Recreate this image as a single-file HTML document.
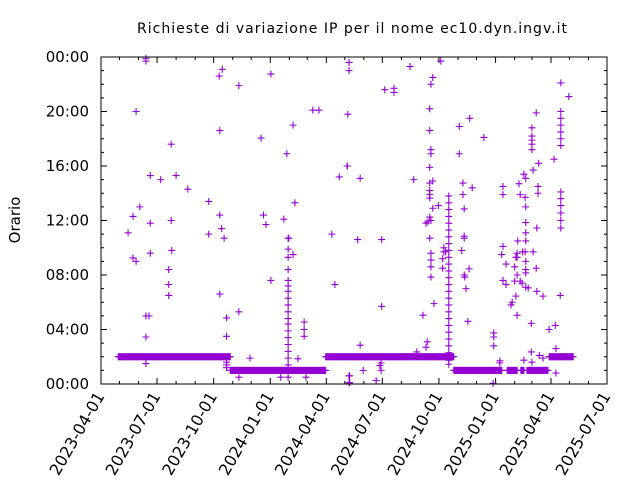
<!DOCTYPE html>
<html><head><meta charset="utf-8"><style>
html,body{margin:0;padding:0;background:#fff}
svg{display:block;font-family:"DejaVu Sans","Liberation Sans",sans-serif}
</style></head><body>
<svg id="chart" width="640" height="480" viewBox="0 0 640 480" xmlns="http://www.w3.org/2000/svg">
<text x="352" y="33" text-anchor="middle" font-size="14" textLength="430" fill="#000">Richieste di variazione IP per il nome ec10.dyn.ingv.it</text>
<text x="0" y="0" font-size="15" text-anchor="middle" transform="translate(20,220) rotate(-90)" fill="#000">Orario</text>
<g id="axes"></g>
<g id="marks"></g>
<rect x="101" y="57" width="506" height="327" fill="none" stroke="#000" stroke-width="1"/>
</svg>
<script>
const xTickLabels = ["2023-04-01","2023-07-01","2023-10-01","2024-01-01","2024-04-01","2024-07-01","2024-10-01","2025-01-01","2025-04-01","2025-07-01"];
const yTickLabels = ["00:00","04:00","08:00","12:00","16:00","20:00","00:00"];
const yTickHours = [0,4,8,12,16,20,24];
// bands: [startDay, endDay, hour] (days since 2023-04-01)
const bandStart = [28,210,365,573,660,682,692,728];
const bandEnd   = [210,365,573,651,676,687,726,767];
const bandHour  = [2,1,2,1,1,1,1,2];
// scattered points: day offsets and hours
const ptDay = [73,73,197,192,276,224,57,344,354,193,312,260,114,302,400,80,97,122,387,141,175,315,63,52,193,264,114,297,80,268,196,44,175,200,375,305,115,80,312,52,57,110,110,193,110,276,380,224,73,78,204,73,204,330,330,330,242,320,73,204,204,204,224,292,333,403,403,
 403,403,552,502,539,536,461,476,476,747,760,401,534,707,747,747,747,747,747,747,599,582,622,700,700,700,700,700,534,536,536,582,400,736,711,702,421,508,534,687,690,534,539,588,653,679,710,534,534,534,588,603,653,681,710,689,747,747,747,747,747,747,548,539,590,690,534,536,528,531,690,708,534,417,456,590,590,653,677,690,690,557,557,560,586,651,676,676,685,689,702,536,536,536,536,555,555,658,674,672,690,690,690,598,707,590,591,676,672,681,684,653,658,690,694,593,708,718,746,674,668,666,541,456,676,523,596,699,728,738,638,638,638,530,528,421,513,699,739,712,718,648,648,687,700,455,453,426,455,404,404,447,637,739,565];
const ptHour = [23.9,23.7,23.1,22.6,22.75,21.9,20.0,20.1,20.1,18.6,19.0,18.05,17.6,16.9,16.0,15.3,15.0,15.3,15.2,14.3,13.4,13.3,13.0,12.3,12.4,12.4,12.0,12.1,11.8,11.7,11.4,11.1,11.0,10.7,11.0,10.7,9.8,9.6,9.5,9.25,9.0,8.4,7.3,6.6,6.5,7.6,7.3,5.3,5.0,5.0,4.85,3.45,3.5,4.55,4.0,3.5,1.9,1.85,1.5,1.6,1.4,1.2,0.5,0.5,0.5,0.6,0.1,
 23.6,23.0,23.7,23.3,22.5,22.0,21.6,21.7,21.4,22.1,21.1,19.8,20.2,19.9,20.0,19.5,19.0,18.5,18.0,17.5,19.5,18.9,18.1,18.8,18.2,17.9,17.6,17.2,18.6,17.2,16.9,16.9,16.0,16.5,16.2,15.7,15.1,15.0,15.9,15.4,15.1,14.75,14.9,14.75,14.5,14.7,14.5,14.2,13.9,13.65,13.9,14.4,13.9,13.9,14.0,13.7,14.1,13.6,13.1,12.55,12.0,11.45,13.1,12.9,12.85,13.0,12.25,12.0,11.8,11.9,11.85,11.45,10.7,10.6,10.6,10.85,10.7,10.1,10.5,11.1,10.5,10.0,9.7,9.7,9.8,9.5,9.6,9.3,9.7,9.7,9.7,9.6,9.1,8.6,7.85,9.2,8.5,8.8,9.3,8.6,9.0,8.4,8.15,8.45,8.5,8.0,7.85,8.0,7.55,7.55,7.4,7.6,7.3,7.1,7.05,7.0,6.8,6.45,6.5,6.45,6.0,5.8,5.9,5.7,5.05,5.05,4.6,4.45,4.0,4.3,3.75,3.45,2.8,3.1,2.7,2.85,2.35,2.35,2.6,2.1,1.9,1.7,1.55,1.75,1.6,1.55,1.35,1.0,1.0,0.6,0.1,0.25,0.05,0.8,1.45];
// vertical columns: day and hours
const col1Day = 304;
const col1Hours = [10.7,9.9,9.3,8.4,7.6,7.2,6.8,6.3,5.8,5.3,4.8,4.4,3.9,3.4,2.9,2.4,1.9,1.4,0.5];
const col2Day = 565;
const col2Hours = [13.8,13.3,12.8,12.3,11.8,11.3,10.8,10.3,9.8,9.3,8.8,8.3,7.8,7.3,6.8,6.3,5.8,5.3,4.8,4.3,3.8,3.3,2.8,2.3,1.75];

const X0=101, X1=607, Y0=384, Y1=57, TOTAL_DAYS=822;
const NS="http://www.w3.org/2000/svg";
function xScale(d){return X0+(X1-X0)*d/TOTAL_DAYS;}
function yScale(h){return Y0-(Y0-Y1)*h/24;}
function dayOf(s){return Math.round((Date.parse(s)-Date.parse("2023-04-01"))/86400000);}
const axes=document.getElementById("axes"), marks=document.getElementById("marks");
function line(g,x1,y1,x2,y2){const l=document.createElementNS(NS,"line");l.setAttribute("x1",x1);l.setAttribute("y1",y1);l.setAttribute("x2",x2);l.setAttribute("y2",y2);l.setAttribute("stroke","#000");g.appendChild(l);return l;}
for(let h=0;h<=24;h++){
  const y=yScale(h), major=h%4===0, len=major?6:3;
  const t=line(axes,X0,y,X0+len,y);
  
  
  const t2=line(axes,X1,y,X1-len,y);
  
  
}
yTickHours.forEach((h,i)=>{
  const tx=document.createElementNS(NS,"text");
  
  
  tx.setAttribute("x",89);tx.setAttribute("y",yScale(h)+5);tx.setAttribute("text-anchor","end");tx.setAttribute("font-size","15");
  tx.textContent=yTickLabels[i];axes.appendChild(tx);
});
for(let y=2023;y<=2025;y++)for(let m=1;m<=12;m++){
  const s=y+"-"+String(m).padStart(2,"0")+"-01", d=dayOf(s);
  if(d<0||d>TOTAL_DAYS)continue;
  const major=(m-1)%3===0, len=major?6:3, x=xScale(d);
  const t=line(axes,x,Y0,x,Y0-len);
  
  
  const t2=line(axes,x,Y1,x,Y1+len);
  
  
}
xTickLabels.forEach(s=>{
  const x=xScale(dayOf(s));
  const tx=document.createElementNS(NS,"text");
  
  
  tx.setAttribute("text-anchor","end");tx.setAttribute("font-size","16");
  tx.setAttribute("transform","translate("+(x+4)+",396) rotate(-60)");
  tx.textContent=s;axes.appendChild(tx);
});
function plus(d,h){
  const x=xScale(d), y=yScale(h);
  const p=document.createElementNS(NS,"path");
  
  
  p.setAttribute("d","M"+(x-3.5)+" "+y+"H"+(x+3.5)+"M"+x+" "+(y-3.5)+"V"+(y+3.5));
  p.setAttribute("stroke","#9400d3");p.setAttribute("stroke-width","1.1");p.setAttribute("fill","none");
  marks.appendChild(p);
}
bandStart.forEach((s,i)=>{for(let d=s;d<=bandEnd[i];d++)plus(d,bandHour[i]);});
ptDay.forEach((d,i)=>plus(d,ptHour[i]));
col1Hours.forEach(h=>plus(col1Day,h));
col2Hours.forEach(h=>plus(col2Day,h));
</script>
</body></html>
